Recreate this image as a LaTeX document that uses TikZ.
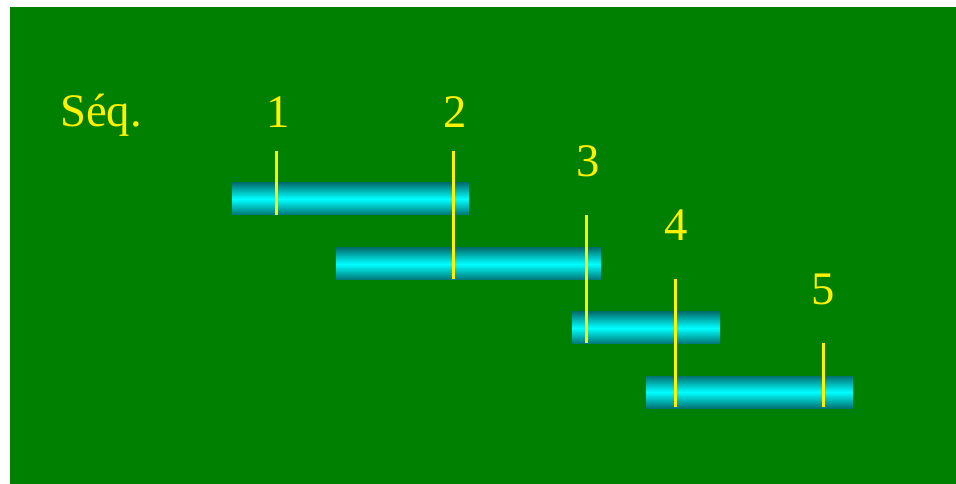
\documentclass[tikz,border=0pt]{standalone}
\usepackage{fontspec}
\setmainfont{Liberation Serif}
\begin{document}
\begin{tikzpicture}[x=0.75pt,y=-0.75pt,
  bar/.style={inner sep=0pt,outer sep=0pt,minimum height=24pt,
    top color=cyan!45!black,bottom color=cyan!45!black,middle color=cyan,
    shading angle=0},
  lab/.style={text=yellow,font=\fontsize{35}{38}\selectfont,inner sep=0pt},
  tick/.style={draw=yellow,line width=2.25pt}]
\definecolor{gr}{HTML}{008000}
\useasboundingbox (0,0) rectangle (956,484);
\fill[white] (0,0) rectangle (956,484);
\fill[gr] (10,7) rectangle (956,484);
% bars
\node[bar,minimum width=177.75pt,anchor=north west] (b1) at (232,183) {};
\node[bar,minimum width=198.75pt,anchor=north west] (b2) at (336,248) {};
\node[bar,minimum width=111pt,anchor=north west] (b3) at (572,312) {};
\node[bar,minimum width=155.25pt,anchor=north west] (b4) at (646,376) {};
% labels
\node[lab] (seq) at (101,115) {Séq.};
\node[lab] (n1) at (278,112) {1};
\node[lab] (n2) at (455,112) {2};
\node[lab] (n3) at (588,161) {3};
\node[lab] (n4) at (676,225) {4};
\node[lab] (n5) at (823,289) {5};
% ticks
\coordinate (t1a) at (276,151); \coordinate (t1b) at (276,215);
\coordinate (t2a) at (453,151); \coordinate (t2b) at (453,279);
\coordinate (t3a) at (586,215); \coordinate (t3b) at (586,343);
\coordinate (t4a) at (675,279); \coordinate (t4b) at (675,407);
\coordinate (t5a) at (823,343); \coordinate (t5b) at (823,407);
\draw[tick] (t1a) -- (t1b);
\draw[tick] (t2a) -- (t2b);
\draw[tick] (t3a) -- (t3b);
\draw[tick] (t4a) -- (t4b);
\draw[tick] (t5a) -- (t5b);
\end{tikzpicture}
\end{document}
